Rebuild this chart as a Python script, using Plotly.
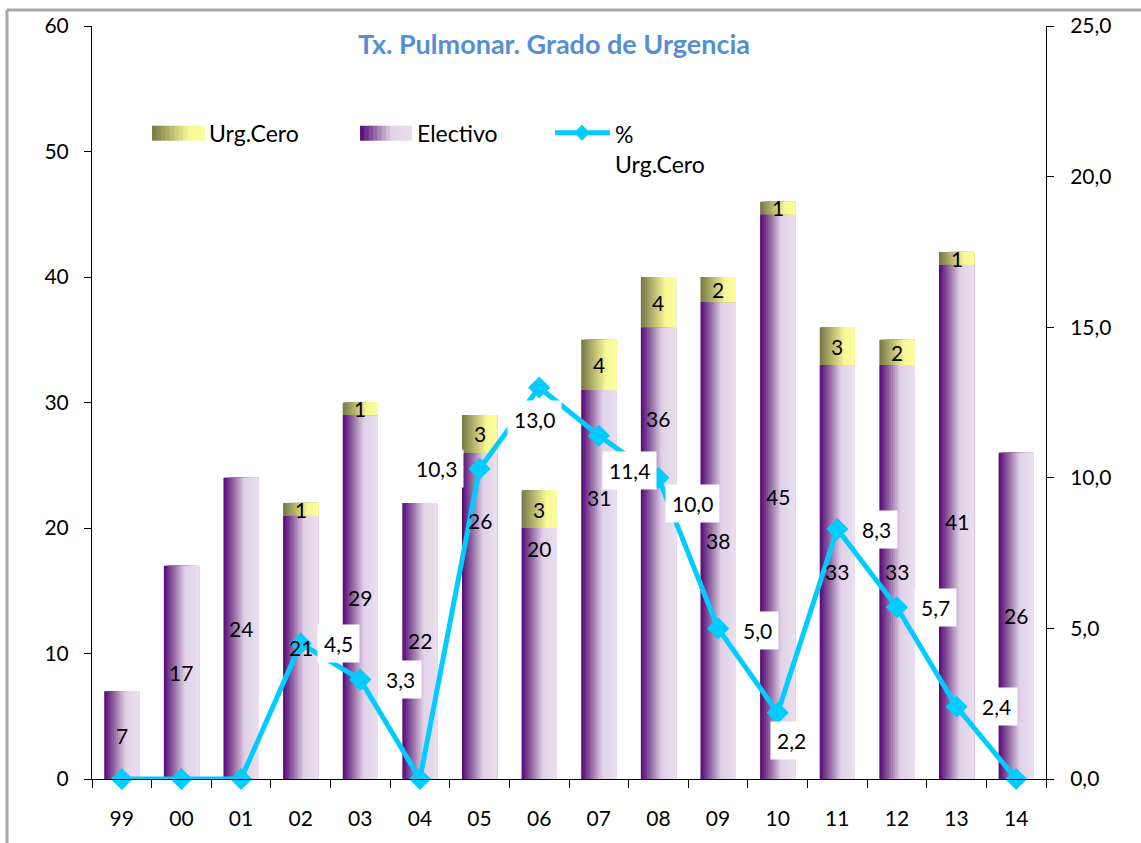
import plotly.graph_objects as go

# ---------------- data ----------------
years = ["99", "00", "01", "02", "03", "04", "05", "06", "07", "08", "09", "10", "11", "12", "13", "14"]
electivo = [7, 17, 24, 21, 29, 22, 26, 20, 31, 36, 38, 45, 33, 33, 41, 26]
urg_cero = [0, 0, 0, 1, 1, 0, 3, 3, 4, 4, 2, 1, 3, 2, 1, 0]
pct_urg_cero = [0.0, 0.0, 0.0, 4.5, 3.3, 0.0, 10.3, 13.0, 11.4, 10.0, 5.0, 2.2, 8.3, 5.7, 2.4, 0.0]
left_ticks = [0, 10, 20, 30, 40, 50, 60]
right_ticks = [0, 5, 10, 15, 20, 25]
title_text = "Tx. Pulmonar. Grado de Urgencia"
legend_names = ["Urg.Cero", "Electivo", "%<br>Urg.Cero"]

# ---------------- style ----------------
W, H = 1141, 843
ML, MR, MT, MB = 92, 95, 24, 64
FONT = "Lato"
FS = 21
FS_TXT = 23
CYAN = "#00CCFF"
ELEC_STOPS = [(0.0, (85, 5, 120)), (0.3, (150, 108, 165)), (0.6, (225, 210, 232)), (1.0, (234, 222, 238))]
URG_STOPS = [(0.0, (118, 118, 70)), (0.7, (248, 248, 150)), (1.0, (252, 252, 158))]
BAR_W = 0.59
NSLICE = 18

# label pixel shifts (style only); screen pixels, dy positive = down
elec_label_yshift = [0, 0, 0, 0, 0, 0, 95, 105, 87, 135, 0, 0, 0, 0, 0, 0]
pct_label_shift = {3: (38, 0), 4: (40, 0), 6: (-43, 0), 7: (-5, 32), 8: (31, 35),
                   9: (34, 26), 10: (39, 2), 11: (14, 28), 12: (39, 0), 13: (39, 0), 14: (40, 0)}


def grad(stops, t):
    for (p0, c0), (p1, c1) in zip(stops[:-1], stops[1:]):
        if t <= p1:
            f = (t - p0) / (p1 - p0) if p1 > p0 else 0
            c = [round(a + (b - a) * f) for a, b in zip(c0, c1)]
            return "rgb(%d,%d,%d)" % tuple(c)
    return "rgb(%d,%d,%d)" % stops[-1][1]


PW = W - ML - MR
PH = H - MT - MB


def px_x(px):
    return (px - ML) / PW


def px_y(py):
    return (H - MB - py) / PH


fig = go.Figure()

# gradient bars: layered slices
for series, base, stops in [(electivo, None, ELEC_STOPS), (urg_cero, electivo, URG_STOPS)]:
    for k in range(NSLICE):
        off = -BAR_W / 2 + k * BAR_W / NSLICE
        fig.add_trace(go.Bar(
            x=years, y=series, base=base,
            width=BAR_W - k * BAR_W / NSLICE, offset=off,
            marker=dict(color=grad(stops, (k + 0.5) / NSLICE), line=dict(width=0)),
            showlegend=False, hoverinfo="skip", yaxis="y",
        ))

# line
fig.add_trace(go.Scatter(
    x=years, y=pct_urg_cero, yaxis="y2", mode="lines+markers",
    line=dict(color=CYAN, width=5),
    marker=dict(symbol="diamond", size=17, color=CYAN),
    cliponaxis=False, showlegend=False, name="% Urg.Cero",
))

ann = []
# bar labels (x given as category index)
for i, (e, u) in enumerate(zip(electivo, urg_cero)):
    ann.append(dict(x=i, y=e / 2, xref="x", yref="y", text=str(e), showarrow=False,
                    yshift=elec_label_yshift[i], font=dict(family=FONT, size=FS, color="black")))
    if u > 0:
        ann.append(dict(x=i, y=e + u / 2, xref="x", yref="y", text=str(u), showarrow=False,
                        font=dict(family=FONT, size=FS, color="black")))
# line labels
for i, p in enumerate(pct_urg_cero):
    if p > 0:
        dx, dy = pct_label_shift.get(i, (39, 0))
        ann.append(dict(x=i, y=p, xref="x", yref="y2", text=("%.1f" % p).replace(".", ","),
                        showarrow=False, xshift=dx, yshift=-dy, bgcolor="white", borderpad=6,
                        font=dict(family=FONT, size=FS, color="black")))

# title
ann.append(dict(x=px_x(554), y=px_y(42), xref="paper", yref="paper", text="<b>%s</b>" % title_text,
                showarrow=False, xanchor="center", yanchor="middle",
                font=dict(family=FONT, size=27, color="#558ED5")))

shapes = []


def swatch(x0, x1, y0, y1, stops, n=12):
    for k in range(n):
        sx0 = x0 + (x1 - x0) * k / n
        sx1 = x0 + (x1 - x0) * (k + 1) / n + 0.6
        shapes.append(dict(type="rect", xref="paper", yref="paper",
                           x0=px_x(sx0), x1=px_x(min(sx1, x1)), y0=px_y(y1), y1=px_y(y0),
                           fillcolor=grad(stops, (k + 0.5) / n), line=dict(width=0), layer="above"))


# custom legend
swatch(152, 205, 124, 139, URG_STOPS)
swatch(360, 412, 124, 139, ELEC_STOPS)
ann.append(dict(x=px_x(207), y=px_y(131), xref="paper", yref="paper", text=legend_names[0],
                showarrow=False, xanchor="left", yanchor="middle",
                font=dict(family=FONT, size=FS_TXT, color="black")))
ann.append(dict(x=px_x(415), y=px_y(131), xref="paper", yref="paper", text=legend_names[1],
                showarrow=False, xanchor="left", yanchor="middle",
                font=dict(family=FONT, size=FS_TXT, color="black")))
shapes.append(dict(type="line", xref="paper", yref="paper", x0=px_x(555), x1=px_x(610),
                   y0=px_y(131), y1=px_y(131), line=dict(color=CYAN, width=5)))
cx, cy, r = 582, 131, 8
shapes.append(dict(type="path", xref="paper", yref="paper",
                   path="M %f %f L %f %f L %f %f L %f %f Z" % (
                       px_x(cx - r), px_y(cy), px_x(cx), px_y(cy - r),
                       px_x(cx + r), px_y(cy), px_x(cx), px_y(cy + r)),
                   fillcolor=CYAN, line=dict(width=0)))
ann.append(dict(x=px_x(613), y=px_y(116), xref="paper", yref="paper", text=legend_names[2],
                showarrow=False, xanchor="left", yanchor="top", align="left",
                font=dict(family=FONT, size=FS_TXT, color="black")))

# chart-area border (top & left visible)
shapes.append(dict(type="line", xref="paper", yref="paper", x0=px_x(7), x1=px_x(W + 5),
                   y0=px_y(8), y1=px_y(8), line=dict(color="#A6A6A6", width=3)))
shapes.append(dict(type="line", xref="paper", yref="paper", x0=px_x(7), x1=px_x(7),
                   y0=px_y(8), y1=px_y(H + 5), line=dict(color="#A6A6A6", width=3)))

fig.update_layout(
    width=W, height=H, margin=dict(l=ML, r=MR, t=MT, b=MB),
    plot_bgcolor="white", paper_bgcolor="white",
    barmode="overlay", showlegend=False, separators=",.",
    font=dict(family=FONT, size=FS, color="black"),
    xaxis=dict(type="category", tickson="boundaries", ticks="outside", ticklen=8,
               tickcolor="black", showline=True, linecolor="black", linewidth=1,
               showgrid=False, ticklabelstandoff=21, range=[-0.5, len(years) - 0.5],
               tickfont=dict(size=FS)),
    yaxis=dict(range=[0, 60], tickvals=left_ticks, ticks="outside", ticklen=7, tickcolor="black",
               showline=True, linecolor="black", showgrid=False, zeroline=False,
               ticklabelstandoff=11),
    yaxis2=dict(range=[0, 25], tickvals=right_ticks, tickformat=".1f", overlaying="y",
                side="right", ticks="outside", ticklen=7, tickcolor="black", showline=True,
                linecolor="black", showgrid=False, zeroline=False, ticklabelstandoff=12),
    annotations=ann, shapes=shapes,
)

fig.write_html("out.html", config={"displayModeBar": False},
               post_script="document.body.style.margin='0';document.body.style.overflow='hidden';")
